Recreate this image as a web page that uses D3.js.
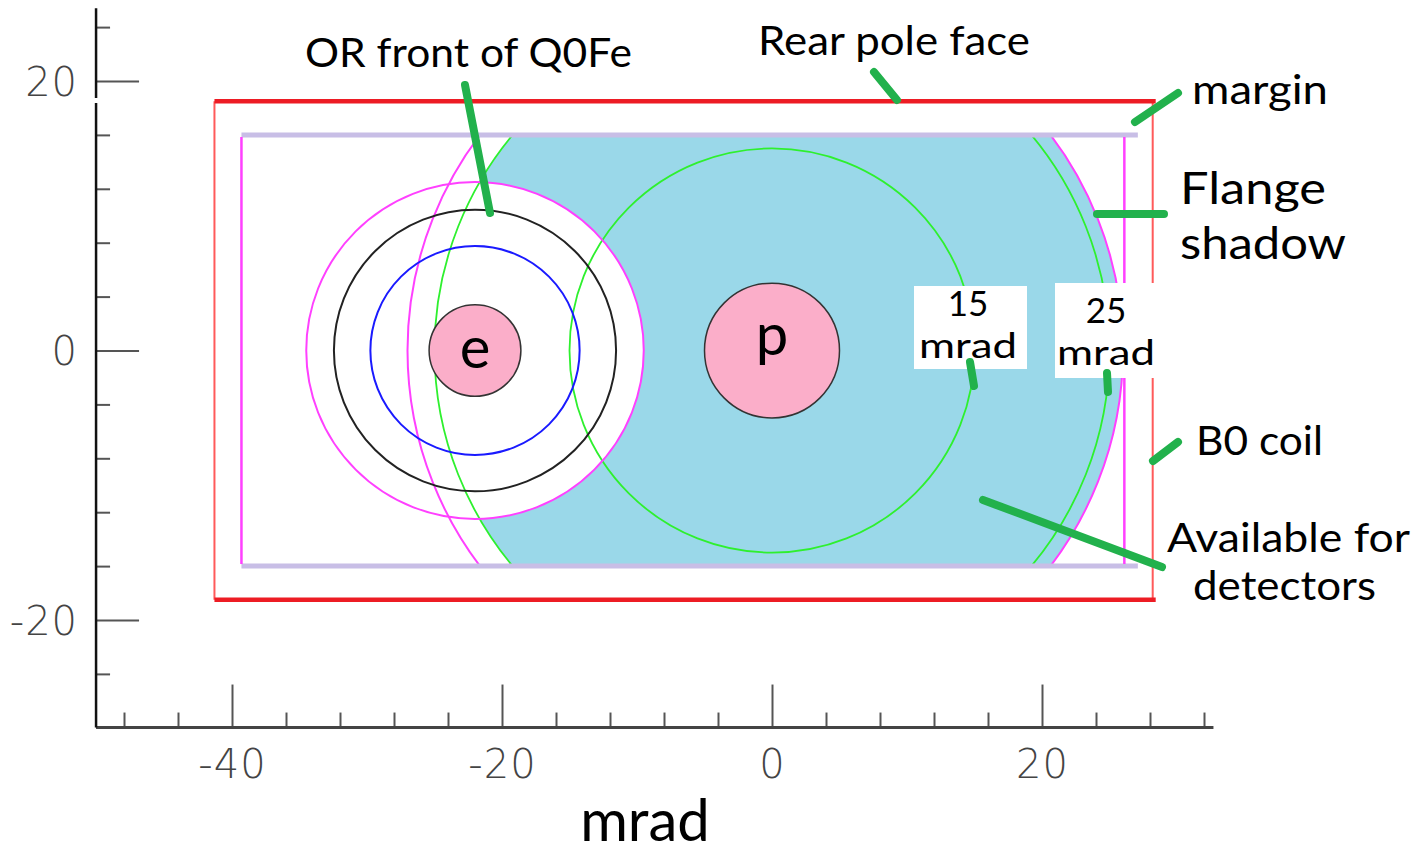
<!DOCTYPE html>
<html><head><meta charset="utf-8">
<script src="https://cdn.jsdelivr.net/npm/d3@7"></script>
<style>body{margin:0;background:#fff} svg{display:block}</style>
</head><body>
<svg id="c" width="1422" height="855"></svg>
<script>
// ---------------- data ----------------
const xTickValues = d3.range(-48, 33, 4);
const xTickLabels = [-40, -20, 0, 20];
const yTickValues = d3.range(-24, 25, 4);
const yTickLabels = [-20, 0, 20];
const xExtent = [-50.07, 32.7];
const yExtent = [-27.98, 25.4];
const axisTitle = "mrad";

const circleNames = ["flange", "eMagnet", "black", "blue", "eBeam", "pBeam", "mrad15", "mrad25"];
const circleCx    = [-0.5, -22, -22, -22, -22, 0, 0, 0];
const circleCy    = [0, 0, 0, 0, 0, 0, 0, 0];
const circleR     = [26.5, 12.5, 10.45, 7.75, 3.4, 5, 15, 25];
const beamLabels  = {eBeam: "e", pBeam: "p"};

const poleFaceY  = [18.5, -18.5];
const poleFaceX  = [-41.3, 28.2];
const marginY    = [16, -16];
const marginX    = [-39.3, 27.1];
const flangeEdgeX = [-39.3, 26.1];

const annotationTexts = ["OR front of Q0Fe", "Rear pole face", "margin", "Flange", "shadow", "B0 coil", "Available for", "detectors"];
const mradBoxTexts = [["15", "mrad"], ["25", "mrad"]];

// ---------------- layout / style ----------------
const svg = d3.select("#c");
const x = d3.scaleLinear().domain([-40, 20]).range([232, 1042]);
const y = d3.scaleLinear().domain([-20, 20]).range([620, 81]);
const rx = r => x(r) - x(0);
const ry = r => y(0) - y(r);
const C = {
  fill: "#9ad8e9", pink: "#fbaec9", magenta: "#ff40ff", green: "#2ef02e",
  blue: "#1a1aff", black: "#222", lav: "#c8bee6", red: "#ed1c24", redThin: "#ff5a5a", ptr: "#22b14c"
};
const circ = {};
circleNames.forEach((n, i) => circ[n] = {cx: circleCx[i], cy: circleCy[i], r: circleR[i]});

const defs = svg.append("defs");
defs.append("clipPath").attr("id", "boxClip").append("rect")
  .attr("x", x(marginX[0])).attr("y", y(marginY[0]))
  .attr("width", x(flangeEdgeX[1]) - x(marginX[0])).attr("height", y(marginY[1]) - y(marginY[0]));
defs.append("clipPath").attr("id", "flangeClip").append("ellipse")
  .attr("cx", x(circ.flange.cx)).attr("cy", y(circ.flange.cy))
  .attr("rx", rx(circ.flange.r)).attr("ry", ry(circ.flange.r));

// ---------------- axes ----------------
const gx = svg.append("g").attr("transform", `translate(0,${y(yExtent[0])})`)
  .call(d3.axisBottom(x).tickValues(xTickValues).tickSize(-15).tickPadding(22)
    .tickFormat(d => xTickLabels.includes(d) ? d : ""));
gx.select(".domain").remove();
gx.selectAll(".tick line").attr("stroke", "#555").attr("stroke-width", 2)
  .attr("y2", d => xTickLabels.includes(d) ? -43 : -15);
gx.selectAll(".tick text").attr("fill", "#444").attr("font-family", "DejaVu Sans")
  .attr("font-weight", 200).attr("font-size", 40).attr("dy", "0.71em").attr("letter-spacing", 1);
svg.append("line").attr("x1", x(xExtent[0])).attr("x2", x(xExtent[1]))
  .attr("y1", y(yExtent[0])).attr("y2", y(yExtent[0])).attr("stroke", "#444").attr("stroke-width", 3);

const gy = svg.append("g").attr("transform", `translate(${x(xExtent[0])},0)`)
  .call(d3.axisLeft(y).tickValues(yTickValues).tickSize(-14).tickPadding(18)
    .tickFormat(d => yTickLabels.includes(d) ? d : ""));
gy.select(".domain").remove();
gy.selectAll(".tick line").attr("stroke", "#555").attr("stroke-width", 2)
  .attr("x2", d => yTickLabels.includes(d) ? 43 : 14);
gy.selectAll(".tick text").attr("fill", "#444").attr("font-family", "DejaVu Sans")
  .attr("font-weight", 200).attr("font-size", 40).attr("letter-spacing", 1).attr("dy", "0.36em");
svg.append("line").attr("x1", x(xExtent[0])).attr("x2", x(xExtent[0]))
  .attr("y1", y(yExtent[1])).attr("y2", y(yExtent[0])).attr("stroke", "#111").attr("stroke-width", 2.5);
// small break in the vertical axis seen in the original
svg.append("rect").attr("x", x(xExtent[0]) - 3).attr("y", 98).attr("width", 6).attr("height", 5).attr("fill", "#fff");

svg.append("text").attr("x", 645).attr("y", 841).attr("text-anchor", "middle")
  .attr("font-family", "Lato").attr("font-size", 58).attr("fill", "#000").text(axisTitle);

// ---------------- available region (blue fill) ----------------
const fillG = svg.append("g").attr("clip-path", "url(#boxClip)")
  .append("g").attr("clip-path", "url(#flangeClip)");
fillG.append("ellipse").attr("cx", x(circ.mrad25.cx)).attr("cy", y(0))
  .attr("rx", rx(circ.mrad25.r)).attr("ry", ry(circ.mrad25.r)).attr("fill", C.fill);
fillG.append("rect").attr("x", x(0)).attr("y", y(marginY[0]))
  .attr("width", x(flangeEdgeX[1]) - x(0)).attr("height", y(marginY[1]) - y(marginY[0])).attr("fill", C.fill);
svg.append("ellipse").attr("cx", x(circ.eMagnet.cx)).attr("cy", y(0))
  .attr("rx", rx(circ.eMagnet.r)).attr("ry", ry(circ.eMagnet.r)).attr("fill", "#fff");

// ---------------- circles ----------------
const clipped = svg.append("g").attr("clip-path", "url(#boxClip)");
function ring(g, c, stroke, w, fill) {
  return g.append("ellipse").attr("cx", x(c.cx)).attr("cy", y(c.cy))
    .attr("rx", rx(c.r)).attr("ry", ry(c.r))
    .attr("fill", fill || "none").attr("stroke", stroke).attr("stroke-width", w);
}
ring(clipped, circ.flange, C.magenta, 2);
ring(clipped, circ.mrad25, C.green, 1.8);
ring(svg, circ.mrad15, C.green, 1.8);
ring(svg, circ.eMagnet, C.magenta, 2);
ring(svg, circ.black, C.black, 2);
ring(svg, circ.blue, C.blue, 2);
["eBeam", "pBeam"].forEach(n => {
  ring(svg, circ[n], "#333", 1.5, C.pink);
  svg.append("text").attr("x", x(circ[n].cx)).attr("y", y(0) + (n === "eBeam" ? 17 : 4))
    .attr("text-anchor", "middle").attr("font-family", "Lato").attr("font-size", 58)
    .attr("fill", "#000").text(beamLabels[n]);
});

// ---------------- boxes ----------------
marginY.forEach(v => svg.append("line").attr("x1", x(marginX[0])).attr("x2", x(marginX[1]))
  .attr("y1", y(v)).attr("y2", y(v)).attr("stroke", C.lav).attr("stroke-width", 5));
flangeEdgeX.forEach(v => svg.append("line").attr("x1", x(v)).attr("x2", x(v))
  .attr("y1", y(marginY[0]) + 2).attr("y2", y(marginY[1]) - 2).attr("stroke", C.magenta).attr("stroke-width", 2.5));
poleFaceX.forEach(v => svg.append("line").attr("x1", x(v)).attr("x2", x(v))
  .attr("y1", y(poleFaceY[0])).attr("y2", y(poleFaceY[1])).attr("stroke", C.redThin).attr("stroke-width", 2));
poleFaceY.forEach(v => svg.append("line").attr("x1", x(poleFaceX[0])).attr("x2", x(poleFaceX[1]) + 3)
  .attr("y1", y(v)).attr("y2", y(v)).attr("stroke", C.red).attr("stroke-width", 4.5));

// ---------------- annotations ----------------
const boxes = [{x: 914, y: 286, w: 113, h: 83, t1y: 316, t2y: 358, cx: 968},
               {x: 1055, y: 283, w: 102, h: 95, t1y: 323, t2y: 365, cx: 1106}];
boxes.forEach((b, i) => {
  svg.append("rect").attr("x", b.x).attr("y", b.y).attr("width", b.w).attr("height", b.h).attr("fill", "#fff");
  svg.append("text").attr("x", b.cx).attr("y", b.t1y).attr("text-anchor", "middle")
    .attr("font-family", "Lato").attr("font-size", 35).text(mradBoxTexts[i][0]);
  svg.append("text").attr("x", b.cx).attr("y", b.t2y).attr("text-anchor", "middle")
    .attr("font-family", "Lato").attr("font-size", 35).attr("textLength", 98)
    .attr("lengthAdjust", "spacingAndGlyphs").text(mradBoxTexts[i][1]);
});

const annPos = [
  {x: 305, y: 67, w: 327, fs: 40}, {x: 758, y: 55, w: 272, fs: 40}, {x: 1192, y: 104, w: 136, fs: 40},
  {x: 1180, y: 204, w: 146, fs: 44}, {x: 1180, y: 259, w: 166, fs: 44}, {x: 1196, y: 455, w: 127, fs: 40},
  {x: 1167, y: 552, w: 243, fs: 40}, {x: 1193, y: 600, w: 183, fs: 40}];
annotationTexts.forEach((t, i) => {
  const p = annPos[i];
  svg.append("text").attr("x", p.x).attr("y", p.y).attr("font-family", "Lato")
    .attr("font-size", p.fs).attr("fill", "#000").attr("textLength", p.w).attr("lengthAdjust", "spacingAndGlyphs").text(t);
});

const pointers = [[465, 85, 490, 213], [874, 72, 897, 100], [1135, 122, 1178, 93], [1097, 214, 1164, 214],
  [970, 362, 974, 386], [1107, 373, 1108, 392], [1153, 461, 1178, 442], [983, 500, 1162, 567]];
pointers.forEach(p => svg.append("line").attr("x1", p[0]).attr("y1", p[1]).attr("x2", p[2]).attr("y2", p[3])
  .attr("stroke", C.ptr).attr("stroke-width", 8).attr("stroke-linecap", "round"));
</script>
</body></html>
